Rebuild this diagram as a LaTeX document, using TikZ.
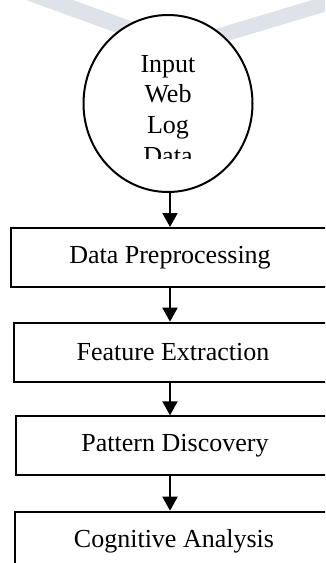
\documentclass[tikz,border=0pt]{standalone}
\usepackage{fontspec}
\setmainfont{Liberation Serif}
\usetikzlibrary{arrows.meta,shapes.geometric}
\definecolor{wmark}{RGB}{221,227,232}
\tikzset{
  txtfont/.style={font=\fontsize{26}{30.7}\selectfont},
  stepbox/.style={draw=black, line width=2pt, minimum width=318pt, minimum height=59pt, inner sep=0pt, txtfont},
  incircle/.style={ellipse, draw=black, fill=white, line width=2pt, minimum width=169pt, minimum height=177pt, inner sep=0pt},
  flow/.style={line width=2pt, -{Triangle[width=15pt,length=14pt]}},
  wm/.style={wmark, line width=16pt}
}
\begin{document}
\begin{tikzpicture}[x=1pt,y=-1pt]
\useasboundingbox (0,0) rectangle (325,563);
\clip (0,0) rectangle (325,563);
% watermark stripes
\draw[wm] (30,-7) -- (135,31);
\draw[wm, line width=15pt] (335,1) -- (215,37);
% input circle
\node[incircle] (c) at (168,103.5) {};
\begin{scope}
\clip (0,0) rectangle (325,158);
\node[align=center, inner sep=0pt, anchor=base, txtfont] (txt) at (168,164.1) {Input\\Web\\Log\\Data};
\end{scope}
% steps
\node[stepbox] (b1) at (170,257.5) {Data Preprocessing};
\node[stepbox] (b2) at (173,352.2) {Feature Extraction};
\node[stepbox] (b3) at (175,445.8) {Pattern Discovery};
\node[stepbox] (b4) at (174,541.2) {Cognitive Analysis};
% arrow column
\coordinate (col) at (170,0);
% arrows
\draw[flow] (c.south -| col) -- (b1.north -| col);
\draw[flow] (b1.south -| col) -- (b2.north -| col);
\draw[flow] (b2.south -| col) -- (b3.north -| col);
\draw[flow] (b3.south -| col) -- (b4.north -| col);
\end{tikzpicture}
\end{document}
